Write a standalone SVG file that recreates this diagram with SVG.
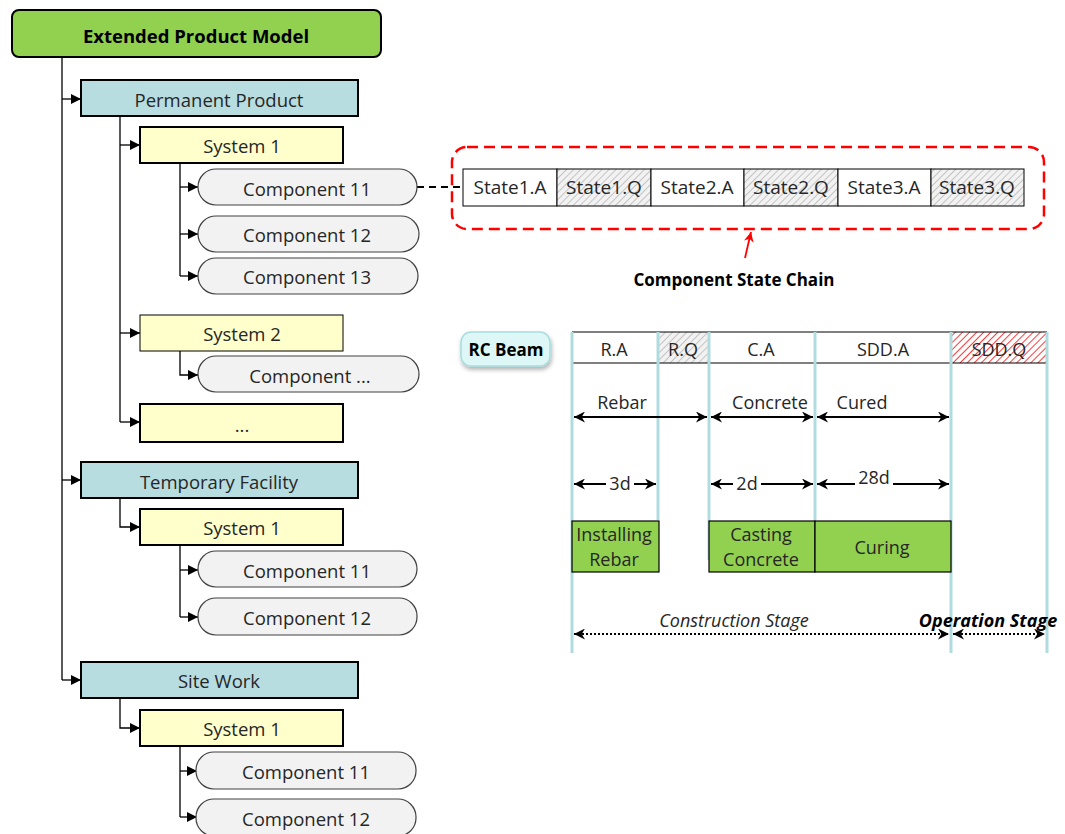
<svg xmlns="http://www.w3.org/2000/svg" width="1065" height="834" viewBox="0 0 1065 834">
<defs>
<style>
text{font-family:"Open Sans","Liberation Sans",sans-serif;fill:#262626;text-anchor:middle;dominant-baseline:central}
.t18{font-size:18.5px}
.t17{font-size:18px}
.sc{font-size:19px}
.bold{font-weight:bold;fill:#000}
.cat{fill:#B7DDE0;stroke:#000;stroke-width:2}
.sys{fill:#FFFFCC;stroke:#000;stroke-width:2}
.comp{fill:#F2F2F2;stroke:#404040;stroke-width:1.2}
.tree{fill:none;stroke:#000;stroke-width:1.3}
.tl{stroke:#B0DCE0;stroke-width:3}
.act{fill:#92D050;stroke:#000;stroke-width:1.2}
.arr{stroke:#000;stroke-width:2;fill:none}
.dot{stroke:#000;stroke-width:2;stroke-dasharray:2,2;fill:none}
</style>
<marker id="ah" viewBox="0 0 10 10" refX="10" refY="5" markerWidth="14" markerHeight="10" markerUnits="userSpaceOnUse" orient="auto-start-reverse">
<path d="M0,0 L10,5 L0,10 z" fill="#000"/>
</marker>
<marker id="ah2" viewBox="0 0 10 10" refX="10" refY="5" markerWidth="15" markerHeight="11" markerUnits="userSpaceOnUse" orient="auto-start-reverse">
<path d="M0,0 L10,5 L0,10 L3,5 z" fill="#000"/>
</marker>
<marker id="ahr" viewBox="0 0 10 10" refX="10" refY="5" markerWidth="12" markerHeight="10" markerUnits="userSpaceOnUse" orient="auto">
<path d="M0,0 L10,5 L0,10 L3,5 z" fill="#FF0000"/>
</marker>
<pattern id="hg" width="5" height="5" patternUnits="userSpaceOnUse" patternTransform="rotate(45)">
<rect width="5" height="5" fill="#F2F2F2"/>
<line x1="0" y1="0" x2="0" y2="5" stroke="#A6A6A6" stroke-width="1.2"/>
</pattern>
<pattern id="hr" width="5" height="5" patternUnits="userSpaceOnUse" patternTransform="rotate(45)">
<rect width="5" height="5" fill="#FFFFFF"/>
<line x1="0" y1="0" x2="0" y2="5" stroke="#FF3B3B" stroke-width="2"/>
</pattern>
<filter id="sh" x="-20%" y="-20%" width="140%" height="150%">
<feDropShadow dx="1" dy="3" stdDeviation="2" flood-color="#000" flood-opacity="0.3"/>
</filter>
</defs>
<rect width="1065" height="834" fill="#fff"/>

<g id="connectors">
<path class="tree" d="M62,57 V680"/>
<path class="tree" d="M62,99 H81" marker-end="url(#ah)"/>
<path class="tree" d="M62,480 H81" marker-end="url(#ah)"/>
<path class="tree" d="M62,680 H81" marker-end="url(#ah)"/>
<path class="tree" d="M120,116 V422"/>
<path class="tree" d="M120,145 H140" marker-end="url(#ah)"/>
<path class="tree" d="M120,333 H140" marker-end="url(#ah)"/>
<path class="tree" d="M120,422 H140" marker-end="url(#ah)"/>
<path class="tree" d="M180,163 V276"/>
<path class="tree" d="M180,187 H198" marker-end="url(#ah)"/>
<path class="tree" d="M180,234 H198" marker-end="url(#ah)"/>
<path class="tree" d="M180,276 H198" marker-end="url(#ah)"/>
<path class="tree" d="M180,351 V375 H198" marker-end="url(#ah)"/>
<path class="tree" d="M120,498 V527 H140" marker-end="url(#ah)"/>
<path class="tree" d="M180,545 V617"/>
<path class="tree" d="M180,570 H198" marker-end="url(#ah)"/>
<path class="tree" d="M180,617 H198" marker-end="url(#ah)"/>
<path class="tree" d="M120,698 V728 H140" marker-end="url(#ah)"/>
<path class="tree" d="M180,746 V817"/>
<path class="tree" d="M180,771 H197" marker-end="url(#ah)"/>
<path class="tree" d="M180,817 H197" marker-end="url(#ah)"/>
<path d="M417,187 H463" stroke="#000" stroke-width="2" stroke-dasharray="7,5" fill="none"/>
<path d="M745,258 L751,232" stroke="#FF0000" stroke-width="1.8" fill="none" marker-end="url(#ahr)"/>
</g>

<g id="root">
<rect x="12" y="10" width="369" height="47" rx="7" fill="#92D050" stroke="#000" stroke-width="2"/>
<text x="196" y="35" class="t18 bold">Extended Product Model</text>
</g>

<g id="permanent-product">
<rect class="cat" x="81" y="80" width="277" height="36"/>
<text x="219" y="99" class="t18">Permanent Product</text>
</g>
<g id="pp-system1">
<rect class="sys" x="140" y="127" width="203" height="36"/>
<text x="242" y="145" class="t18">System 1</text>
</g>
<g id="pp-comp11">
<rect class="comp" x="198" y="169" width="219" height="36" rx="18"/>
<text x="307" y="188" class="t18">Component 11</text>
</g>
<g id="pp-comp12">
<rect class="comp" x="198" y="216" width="221" height="36" rx="18"/>
<text x="307" y="234" class="t18">Component 12</text>
</g>
<g id="pp-comp13">
<rect class="comp" x="198" y="258" width="220" height="36" rx="18"/>
<text x="307" y="276" class="t18">Component 13</text>
</g>
<g id="pp-system2">
<rect x="140" y="315" width="203" height="36" fill="#FFFFCC" stroke="#000" stroke-width="1"/>
<text x="242" y="333" class="t18">System 2</text>
</g>
<g id="pp-comp-more">
<rect class="comp" x="198" y="356" width="221" height="36" rx="18"/>
<text x="310" y="375" class="t18">Component ...</text>
</g>
<g id="pp-system-more">
<rect class="sys" x="140" y="404" width="203" height="38"/>
<text x="242" y="424" class="t18">...</text>
</g>

<g id="temporary-facility">
<rect class="cat" x="81" y="462" width="277" height="36"/>
<text x="219" y="481" class="t18">Temporary Facility</text>
</g>
<g id="tf-system1">
<rect class="sys" x="140" y="509" width="203" height="36"/>
<text x="242" y="527" class="t18">System 1</text>
</g>
<g id="tf-comp11">
<rect class="comp" x="198" y="551" width="219" height="36" rx="18"/>
<text x="307" y="570" class="t18">Component 11</text>
</g>
<g id="tf-comp12">
<rect class="comp" x="198" y="598" width="219" height="37" rx="18"/>
<text x="307" y="617" class="t18">Component 12</text>
</g>

<g id="site-work">
<rect class="cat" x="81" y="662" width="277" height="36"/>
<text x="219" y="680" class="t18">Site Work</text>
</g>
<g id="sw-system1">
<rect class="sys" x="140" y="710" width="203" height="36"/>
<text x="242" y="728" class="t18">System 1</text>
</g>
<g id="sw-comp11">
<rect class="comp" x="196" y="752" width="220" height="37" rx="18"/>
<text x="306" y="771" class="t18">Component 11</text>
</g>
<g id="sw-comp12">
<rect class="comp" x="196" y="799" width="220" height="37" rx="18"/>
<text x="306" y="818" class="t18">Component 12</text>
</g>

<g id="state-chain">
<rect x="452" y="147" width="592" height="82" rx="15" fill="none" stroke="#FF0000" stroke-width="2.5" stroke-dasharray="11,6"/>
<rect x="463" y="169" width="94" height="37" fill="#fff" stroke="#000" stroke-width="1"/>
<rect x="557" y="169" width="94" height="37" fill="url(#hg)" stroke="#000" stroke-width="1"/>
<rect x="651" y="169" width="93" height="37" fill="#fff" stroke="#000" stroke-width="1"/>
<rect x="744" y="169" width="94" height="37" fill="url(#hg)" stroke="#000" stroke-width="1"/>
<rect x="838" y="169" width="93" height="37" fill="#fff" stroke="#000" stroke-width="1"/>
<rect x="931" y="169" width="93" height="37" fill="url(#hg)" stroke="#000" stroke-width="1"/>
<text x="510" y="187" class="sc">State1.A</text>
<text x="604" y="187" class="sc">State1.Q</text>
<text x="697" y="187" class="sc">State2.A</text>
<text x="791" y="187" class="sc">State2.Q</text>
<text x="884" y="187" class="sc">State3.A</text>
<text x="977" y="187" class="sc">State3.Q</text>
<text x="734" y="279" class="t17 bold" style="font-size:17px">Component State Chain</text>
</g>

<g id="rc-beam">
<rect x="461" y="332" width="89" height="34" rx="10" fill="#DDF7F7" stroke="#A8DDE0" stroke-width="1.5" filter="url(#sh)"/>
<text x="506" y="349" class="bold" style="font-size:17px">RC Beam</text>
</g>

<g id="timeline">
<rect x="658" y="332" width="51" height="31" fill="url(#hg)"/>
<rect x="951" y="332" width="96" height="31" fill="url(#hr)"/>
<line x1="572" y1="332" x2="1047" y2="332" stroke="#000" stroke-width="1"/>
<line x1="572" y1="363" x2="1047" y2="363" stroke="#000" stroke-width="1"/>
<line class="tl" x1="572" y1="332" x2="572" y2="653"/>
<line class="tl" x1="658" y1="332" x2="658" y2="520"/>
<line class="tl" x1="709" y1="332" x2="709" y2="560"/>
<line class="tl" x1="815" y1="332" x2="815" y2="520"/>
<line class="tl" x1="951" y1="332" x2="951" y2="653"/>
<line class="tl" x1="1047" y1="332" x2="1047" y2="653"/>
<text x="614" y="349" class="t17">R.A</text>
<text x="683" y="349" class="t17">R.Q</text>
<text x="761" y="349" class="t17">C.A</text>
<text x="883" y="349" class="t17">SDD.A</text>
<text x="999" y="349" class="t17">SDD.Q</text>

<path class="arr" d="M574,417 H707" marker-start="url(#ah2)" marker-end="url(#ah2)"/>
<path class="arr" d="M711,417 H813" marker-start="url(#ah2)" marker-end="url(#ah2)"/>
<path class="arr" d="M817,417 H949" marker-start="url(#ah2)" marker-end="url(#ah2)"/>
<text x="622" y="402" class="t17">Rebar</text>
<text x="770" y="402" class="t17">Concrete</text>
<text x="862" y="402" class="t17">Cured</text>

<path class="arr" d="M574,484 H606" marker-start="url(#ah2)"/>
<path class="arr" d="M634,484 H656" marker-end="url(#ah2)"/>
<text x="620" y="483" class="t17">3d</text>
<path class="arr" d="M711,484 H733" marker-start="url(#ah2)"/>
<path class="arr" d="M761,484 H813" marker-end="url(#ah2)"/>
<text x="747" y="483" class="t17">2d</text>
<path class="arr" d="M817,484 H855" marker-start="url(#ah2)"/>
<path class="arr" d="M893,484 H949" marker-end="url(#ah2)"/>
<text x="874" y="477" class="t17">28d</text>

<rect class="act" x="572" y="521" width="87" height="51"/>
<text x="614" y="534" class="t17">Installing</text>
<text x="614" y="559" class="t17">Rebar</text>
<rect class="act" x="709" y="521" width="106" height="51"/>
<text x="761" y="534" class="t17">Casting</text>
<text x="761" y="559" class="t17">Concrete</text>
<rect class="act" x="815" y="521" width="136" height="51"/>
<text x="882" y="547" class="t17">Curing</text>

<path class="dot" d="M574,634 H949" marker-start="url(#ah2)" marker-end="url(#ah2)"/>
<path class="dot" d="M953,634 H1045" marker-start="url(#ah2)" marker-end="url(#ah2)"/>
<text x="734" y="620" class="t17" font-style="italic">Construction Stage</text>
<text x="988" y="620" class="t17 bold" font-style="italic">Operation Stage</text>
</g>
</svg>
